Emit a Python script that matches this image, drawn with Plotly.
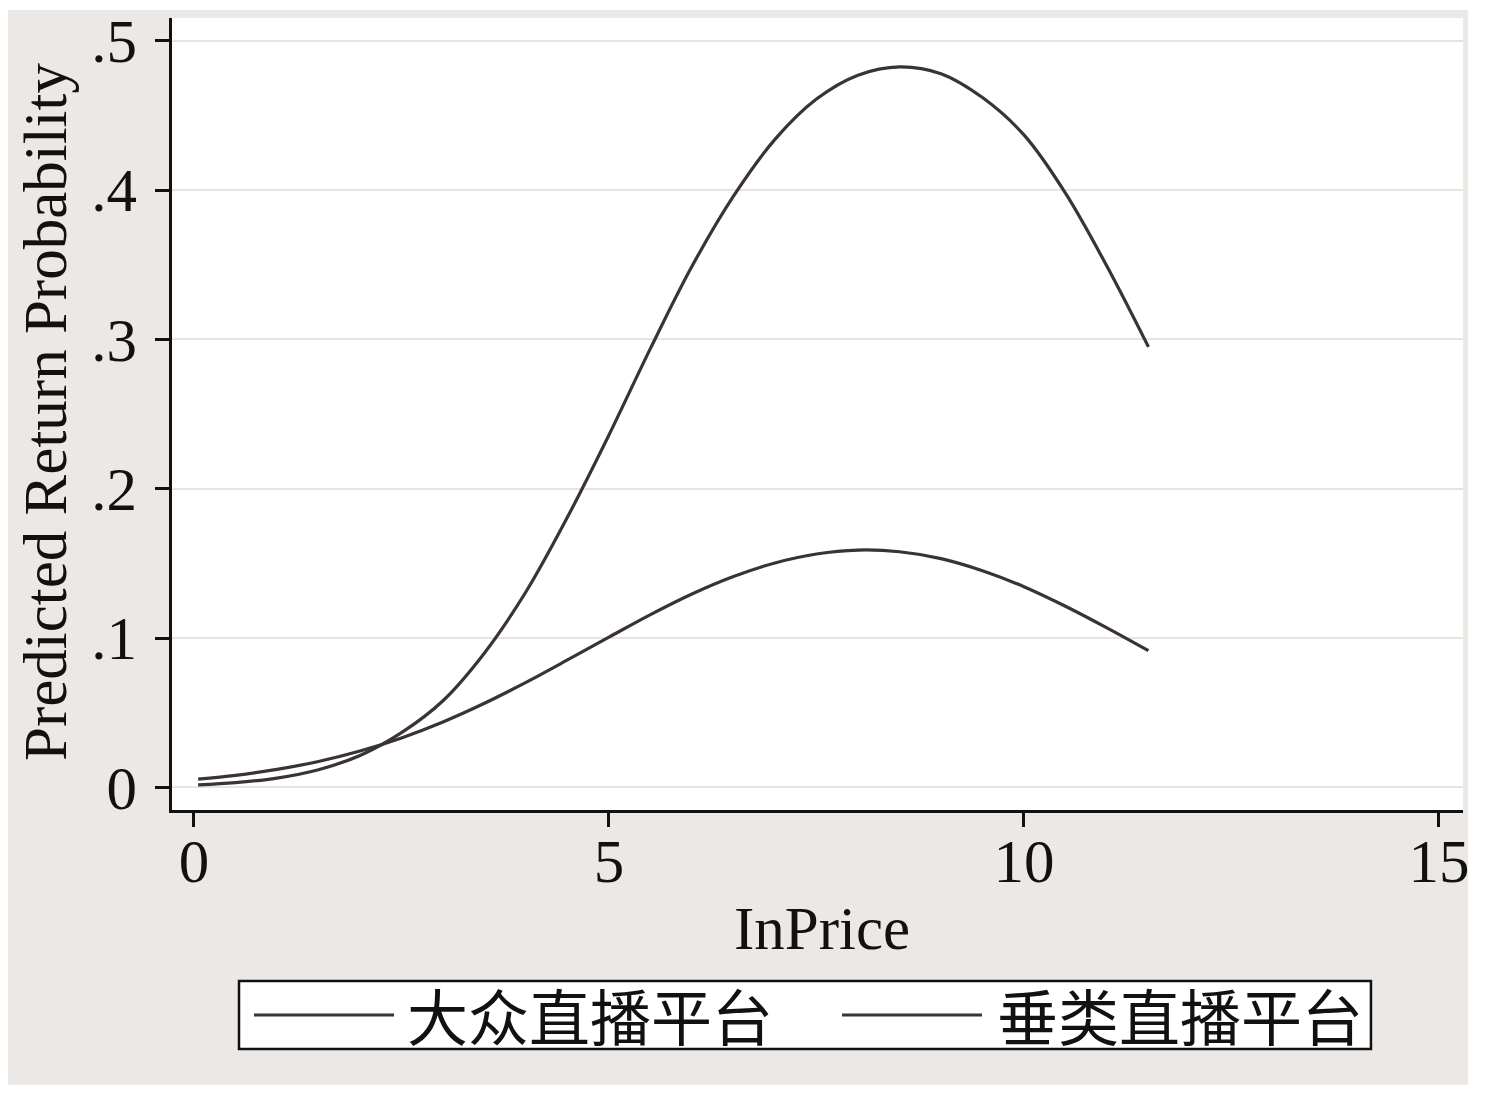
import plotly.graph_objects as go

# values
ln_price = [0.05, 0.5, 1.0, 1.5, 2.0, 2.5, 3.0, 3.5, 4.0, 4.5, 5.0, 5.5,
            6.0, 6.5, 7.0, 7.5, 8.0, 8.5, 9.0, 9.5, 10.0, 10.5, 11.0, 11.5]
mass_platform = [0.0016, 0.0031, 0.0062, 0.0118, 0.0213, 0.0366, 0.058, 0.090,
                 0.131, 0.181, 0.236, 0.294, 0.349, 0.396, 0.434, 0.461,
                 0.477, 0.4826, 0.478, 0.462, 0.437, 0.398, 0.349, 0.295]
vertical_platform = [0.0055, 0.0080, 0.0120, 0.0173, 0.0243, 0.0331, 0.0438, 0.0563,
                     0.0703, 0.0853, 0.1006, 0.1157, 0.1295, 0.1412, 0.1503, 0.1563,
                     0.1589, 0.1578, 0.1532, 0.1451, 0.1344, 0.1213, 0.1068, 0.0915]
series_names = ["大众直播平台", "垂类直播平台"]
x_ticks = [0, 5, 10, 15]
y_ticks = [0, 0.1, 0.2, 0.3, 0.4, 0.5]
y_tick_text = ["0", ".1", ".2", ".3", ".4", ".5"]

LINE = "#3a3333"
SERIF = "Liberation Serif, Times New Roman, serif"
CJK = "Noto Sans CJK SC"

fig = go.Figure()
for name, ys in zip(series_names, [mass_platform, vertical_platform]):
    fig.add_trace(go.Scatter(x=ln_price, y=ys, name=name, mode="lines",
                             line=dict(color=LINE, width=3.2, shape="spline"),
                             showlegend=False))

# page body adds an 8px offset, so margins are shifted to compensate
fig.update_layout(
    width=1496, height=1094,
    margin=dict(l=164, r=41, t=10, b=292),
    paper_bgcolor="white",
    plot_bgcolor="white",
    font=dict(family=SERIF, size=61, color="#111"),
)
fig.update_xaxes(
    range=[-0.265, 15.29], tickvals=x_ticks, showgrid=False, zeroline=False,
    showline=True, linecolor="#111", linewidth=2.5, automargin=False,
    ticks="outside", ticklen=14, tickwidth=2.5, tickcolor="#111",
    ticklabelstandoff=-18,
)
fig.update_yaxes(
    range=[-0.0152, 0.5153], tickvals=y_ticks, ticktext=y_tick_text,
    showgrid=True, gridcolor="#e8e3df", gridwidth=2, zeroline=False,
    showline=True, linecolor="#111", linewidth=2.5, automargin=False,
    ticks="outside", ticklen=14, tickwidth=2.5, tickcolor="#111",
    ticklabelstandoff=6,
)

# grey page behind the plot region, white plot region on top of it
fig.add_shape(type="rect", xref="paper", yref="paper", layer="below",
              x0=-0.131, x1=1.004, y0=-0.347, y1=1.010,
              fillcolor="#ece8e5", line=dict(width=0))
fig.add_shape(type="rect", xref="paper", yref="paper", layer="below",
              x0=0, x1=1, y0=0, y1=1,
              fillcolor="white", line=dict(width=0))

# axis titles
fig.add_annotation(text="InPrice", xref="paper", yref="paper", x=0.5035, y=-0.105,
                   xanchor="center", yanchor="top", showarrow=False,
                   font=dict(family=SERIF, size=61, color="#111"))
fig.add_annotation(text="Predicted Return Probability", xref="paper", yref="paper",
                   x=-0.0984, y=0.5025, xanchor="center", yanchor="middle",
                   textangle=-90, showarrow=False, borderpad=0,
                   font=dict(family=SERIF, size=61, color="#111"))

# legend box drawn by hand (long line samples as in the reference)
fig.add_shape(type="rect", xref="paper", yref="paper",
              x0=0.0519, x1=0.9287, y0=-0.3018, y1=-0.2159,
              fillcolor="white", line=dict(color="#111", width=2.5))
for (lx0, lx1, tx), name in zip([(0.0635, 0.172, 0.1805), (0.519, 0.6274, 0.6375)], series_names):
    fig.add_shape(type="line", xref="paper", yref="paper",
                  x0=lx0, x1=lx1, y0=-0.2588, y1=-0.2588,
                  line=dict(color=LINE, width=3))
    fig.add_annotation(text=name, xref="paper", yref="paper", x=tx, y=-0.2588,
                       xanchor="left", yanchor="middle", showarrow=False,
                       font=dict(family=CJK, size=61, color="#111"))

fig.write_html("out.html")
